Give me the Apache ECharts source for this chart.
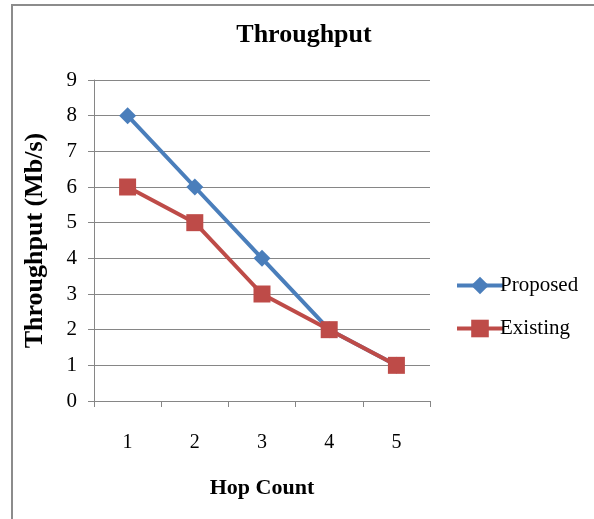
<!DOCTYPE html>
<html>
<head>
<meta charset="utf-8">
<script src="https://cdn.jsdelivr.net/npm/echarts@6/dist/echarts.min.js"></script>
<style>
html,body{margin:0;padding:0;background:#fff;}
#c{width:594px;height:519px;}
</style>
</head>
<body>
<div id="c"></div>
<script>
var categories = ['1', '2', '3', '4', '5'];
var proposed = [8, 6, 4, 2, 1];
var existing = [6, 5, 3, 2, 1];
var yTicks = [0, 1, 2, 3, 4, 5, 6, 7, 8, 9];

var serif = '"Liberation Serif", "Times New Roman", serif';
var chart = echarts.init(document.getElementById('c'));
chart.setOption({
  animation: false,
  backgroundColor: '#fff',
  graphic: [{
    type: 'rect', z: 0, silent: true,
    shape: { x: 12, y: 5, width: 640, height: 560 },
    style: { fill: 'none', stroke: '#8c8c8c', lineWidth: 2 }
  }],
  title: {
    text: 'Throughput',
    left: 299, top: 17, textAlign: 'center',
    textStyle: { fontFamily: serif, fontWeight: 'bold', fontSize: 26, color: '#000' }
  },
  legend: {
    orient: 'vertical',
    left: 450, top: 270,
    itemWidth: 46, itemHeight: 22, itemGap: 22,
    lineStyle: { width: 4 },
    textStyle: { fontFamily: serif, fontSize: 21, color: '#000', padding: [0, 0, 0, -8] },
    data: ['Proposed', 'Existing']
  },
  grid: { left: 94, right: 164, top: 80, bottom: 118 },
  xAxis: {
    type: 'category',
    data: categories,
    boundaryGap: true,
    name: 'Hop Count',
    nameLocation: 'middle',
    nameGap: 76,
    nameTextStyle: { fontFamily: serif, fontWeight: 'bold', fontSize: 22, color: '#000' },
    axisLine: { lineStyle: { color: '#868686', width: 1 } },
    axisTick: { show: true, length: 6, inside: false, lineStyle: { color: '#868686' } },
    axisLabel: { fontFamily: serif, fontSize: 20, color: '#000', margin: 32 },
    splitLine: { show: false }
  },
  yAxis: {
    type: 'value',
    min: yTicks[0], max: yTicks[yTicks.length - 1], interval: 1,
    name: 'Throughput (Mb/s)',
    nameLocation: 'middle',
    nameGap: 46,
    nameTextStyle: { fontFamily: serif, fontWeight: 'bold', fontSize: 26, color: '#000' },
    axisLine: { show: true, lineStyle: { color: '#868686', width: 1 } },
    axisTick: { show: true, length: 6, inside: false, lineStyle: { color: '#868686' } },
    axisLabel: { fontFamily: serif, fontSize: 21, color: '#000', margin: 17 },
    splitLine: { show: true, lineStyle: { color: '#868686', width: 1 } }
  },
  series: [
    {
      name: 'Proposed', type: 'line', data: proposed,
      symbol: 'diamond', symbolSize: 17, z: 2,
      lineStyle: { color: '#4A7EBB', width: 4 },
      itemStyle: { color: '#4A7EBB' }
    },
    {
      name: 'Existing', type: 'line', data: existing,
      symbol: 'rect', symbolSize: 17, z: 3,
      lineStyle: { color: '#BE4B48', width: 4 },
      itemStyle: { color: '#BE4B48' }
    }
  ]
});
</script>
</body>
</html>
